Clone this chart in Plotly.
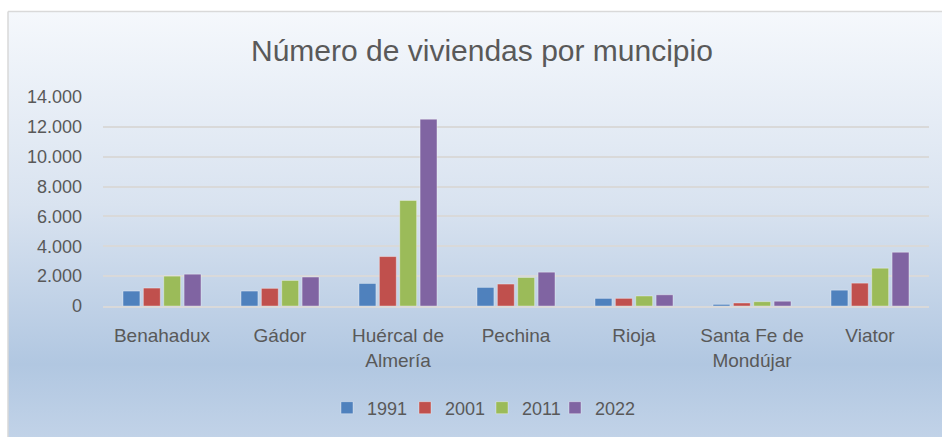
import base64
import plotly.graph_objects as go

categories = ["Benahadux", "Gádor", "Huércal de<br>Almería", "Pechina", "Rioja",
              "Santa Fe de<br>Mondújar", "Viator"]
years = ["1991", "2001", "2011", "2022"]
v1991 = [1000, 1000, 1510, 1245, 510, 110, 1060]
v2001 = [1200, 1180, 3310, 1470, 510, 200, 1530]
v2011 = [2000, 1710, 7070, 1910, 670, 290, 2530]
v2022 = [2130, 1940, 12510, 2265, 750, 320, 3600]
series = [v1991, v2001, v2011, v2022]
colors = ["#4F81BD", "#C0504D", "#9BBB59", "#8064A2"]
y_ticks = [0, 2000, 4000, 6000, 8000, 10000, 12000, 14000]

FONT = "Liberation Sans, Arial, sans-serif"
TXT = "#595959"

W, H = 942, 437
L, R, T, B = 103, 13, 97, 130
pw, ph = W - L - R, H - T - B

def px(x):
    return (x - L) / pw

def py(y):
    return (H - B - y) / ph

svg = (
    '<svg xmlns="http://www.w3.org/2000/svg" width="100" height="100" preserveAspectRatio="none">'
    '<defs><linearGradient id="g" x1="0" y1="0" x2="0" y2="1">'
    '<stop offset="0" stop-color="#F5F8FC"/>'
    '<stop offset="0.45" stop-color="#D9E3F0"/>'
    '<stop offset="0.82" stop-color="#B1C7E1"/>'
    '<stop offset="1" stop-color="#C2D3E8"/>'
    '</linearGradient></defs>'
    '<rect x="0" y="0" width="100" height="100" fill="url(#g)"/></svg>'
)
uri = "data:image/svg+xml;base64," + base64.b64encode(svg.encode()).decode()

legend_ids = ["legend", "legend2", "legend3", "legend4"]
legend_left = [327, 405, 482, 555]

fig = go.Figure()
for name, vals, col, lid in zip(years, series, colors, legend_ids):
    fig.add_trace(go.Bar(
        x=categories, y=vals, name=name, legend=lid,
        marker=dict(color=col, line=dict(color="rgba(255,255,255,0.35)", width=1)),
    ))

legends = {}
for lid, lx in zip(legend_ids, legend_left):
    legends[lid] = dict(orientation="h", x=px(lx), y=py(408), xanchor="left", yanchor="middle",
                        font=dict(size=18, color=TXT), bgcolor="rgba(0,0,0,0)")

fig.update_layout(
    width=W, height=H,
    margin=dict(l=L, r=R, t=T, b=B, pad=0),
    paper_bgcolor="white",
    plot_bgcolor="rgba(0,0,0,0)",
    separators=",.",
    barmode="group",
    bargap=0.31,
    bargroupgap=0.17,
    font=dict(family=FONT, color=TXT, size=18),
    showlegend=True,
    images=[dict(source=uri, xref="paper", yref="paper", x=px(8), y=py(11),
                 sizex=px(W + 20) - px(8), sizey=py(11) - py(H + 6), xanchor="left",
                 yanchor="top", sizing="stretch", layer="below")],
    shapes=[
        dict(type="line", xref="paper", yref="paper", x0=px(8), x1=px(W + 20), y0=py(11), y1=py(11),
             line=dict(color="#D9D9D9", width=1.5), layer="below"),
        dict(type="line", xref="paper", yref="paper", x0=px(8), x1=px(8), y0=py(11), y1=py(H + 6),
             line=dict(color="#D9D9D9", width=1.5), layer="below"),
    ],
    annotations=[dict(text="Número de viviendas por muncipio", xref="paper", yref="paper",
                      x=px(482), y=py(50), xanchor="center", yanchor="middle", showarrow=False,
                      font=dict(size=30, color=TXT, family=FONT))],
    **legends,
)
fig.update_yaxes(range=[0, 14000], tickvals=y_ticks, tickformat=",d", showgrid=True,
                 gridcolor="#D9D9D9", gridwidth=2, zeroline=False, showline=False,
                 ticks="", ticklabelstandoff=20, tickfont=dict(size=18, color=TXT))
fig.update_xaxes(showline=True, linecolor="#D9D9D9", linewidth=2, ticks="",
                 ticklabelstandoff=11, tickfont=dict(size=19, color=TXT))

fig.write_html("out.html", config={"displayModeBar": False},
               post_script="document.body.style.margin='0';document.body.style.overflow='hidden';")
